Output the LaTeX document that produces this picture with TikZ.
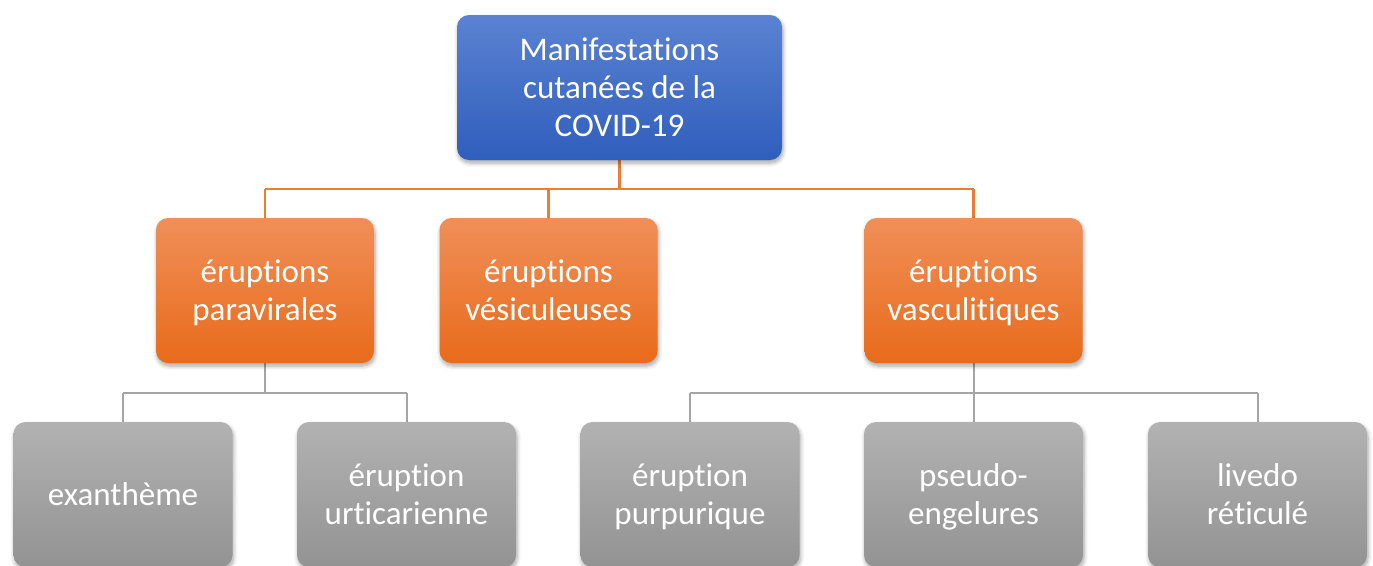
\documentclass[tikz,border=0pt]{standalone}
\usepackage{fontspec}
\setmainfont[Ligatures={NoCommon,NoContextual,NoRare}]{Carlito}
\usetikzlibrary{shadows.blur}
\definecolor{blueT}{HTML}{5B82D2}
\definecolor{blueB}{HTML}{2F5EBC}
\definecolor{orangeT}{HTML}{F08F58}
\definecolor{orangeB}{HTML}{E86B1B}
\definecolor{grayT}{HTML}{B2B2B2}
\definecolor{grayB}{HTML}{939393}
\definecolor{orangeLine}{HTML}{ED7D31}
\definecolor{grayLine}{HTML}{A5A5A5}
% one text line of fixed height and depth
\newcommand\tline[1]{\rule[-8pt]{0pt}{38pt}#1}
\begin{document}
\begin{tikzpicture}[x=1pt,y=-1pt,
  box/.style={rounded corners=12pt, minimum height=145pt, align=center,
    text=white, font=\fontsize{33}{38}\selectfont, inner sep=0pt,
    blur shadow={shadow xshift=1pt, shadow yshift=-3pt, shadow blur steps=6,
      shadow blur radius=4pt, shadow opacity=35}},
  topbox/.style={box, minimum width=325pt, shading=axis, top color=blueT, bottom color=blueB},
  midbox/.style={box, minimum width=218pt, shading=axis, top color=orangeT, bottom color=orangeB},
  lowbox/.style={box, minimum width=219pt, shading=axis, top color=grayT, bottom color=grayB},
  oline/.style={draw=orangeLine, line width=2.5pt},
  gline/.style={draw=grayLine, line width=2pt}]
\useasboundingbox (0,0) rectangle (1373,565);
% tree connectors
\coordinate (topjoin) at (619.5,189);
\coordinate (lj) at (265,393);
\coordinate (rj) at (973.5,393);
\draw[oline] (619.5,160) -- (topjoin);
\draw[oline] (265,189) -- (973.5,189);
\draw[oline] (265,189) -- (265,218);
\draw[oline] (548.5,189) -- (548.5,218);
\draw[oline] (973.5,189) -- (973.5,218);
\draw[gline] (265,363) -- (lj);
\draw[gline] (123,393) -- (406.5,393);
\draw[gline] (123,393) -- (123,422);
\draw[gline] (406.5,393) -- (406.5,422);
\draw[gline] (973.5,363) -- (rj);
\draw[gline] (690,393) -- (1257.5,393);
\draw[gline] (690,393) -- (690,422);
\draw[gline] (973.5,393) -- (973.5,422);
\draw[gline] (1257.5,393) -- (1257.5,422);
% boxes
\node[topbox] (root) at (619.5,87.5) {\tline{Manifestations}\\\tline{cutanées de la}\\\tline{COVID-19}};
\node[midbox] (para) at (265,290.5) {\tline{éruptions}\\\tline{paravirales}};
\node[midbox] (vesi) at (548.5,290.5) {\tline{éruptions}\\\tline{vésiculeuses}};
\node[midbox] (vasc) at (973.5,290.5) {\tline{éruptions}\\\tline{vasculitiques}};
\node[lowbox] (exan) at (123,494.5) {\tline{exanthème}};
\node[lowbox] (urti) at (406.5,494.5) {\tline{éruption}\\\tline{urticarienne}};
\node[lowbox] (purp) at (690,494.5) {\tline{éruption}\\\tline{purpurique}};
\node[lowbox] (pseu) at (973.5,494.5) {\tline{pseudo-}\\\tline{engelures}};
\node[lowbox] (live) at (1257.5,494.5) {\tline{livedo}\\\tline{réticulé}};
\end{tikzpicture}
\end{document}
